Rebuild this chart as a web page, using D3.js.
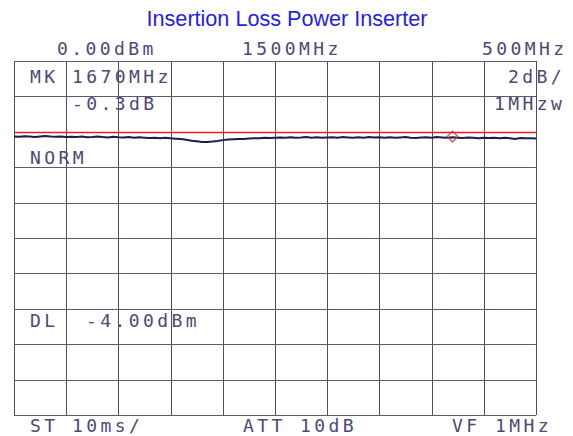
<!DOCTYPE html>
<html>
<head>
<meta charset="utf-8">
<script src="https://cdn.jsdelivr.net/npm/d3@7"></script>
<style>
  html, body { margin: 0; padding: 0; background: #ffffff; }
  svg { display: block; }
  .lbl { font-family: "DejaVu Sans Mono", monospace; font-size: 18px; fill: #4a4a74; letter-spacing: 3.4px; }
</style>
</head>
<body>
<svg id="chart" width="573" height="436"></svg>
<script>
// ---------- data ----------
const title = "Insertion Loss Power Inserter";
const startMHz = 1250;           // centre 1500 MHz, span 500 MHz
const stopMHz = 1750;
const refLevelDbm = 0;           // top of screen
const bottomLevelDbm = -20;      // 2 dB/div x 10 div
const freqGridMHz = [1250, 1300, 1350, 1400, 1450, 1500, 1550, 1600, 1650, 1700, 1750];
const levelGridDbm = [0, -2, -4, -6, -8, -10, -12, -14, -16, -18, -20];
const displayLineDbm = -4.0;     // DL -4.00dBm
const markerMHz = 1670;
const markerDbm = -4.27;
// trace level (dBm), 101 points evenly spread across the span
const traceDbm = [
  -4.26,-4.28,-4.25,-4.27,-4.29,-4.26,-4.24,-4.27,-4.28,-4.26,-4.29,
  -4.28,-4.30,-4.27,-4.31,-4.29,-4.26,-4.30,-4.32,-4.28,-4.31,
  -4.32,-4.30,-4.34,-4.31,-4.33,-4.35,-4.33,-4.36,-4.34,-4.37,
  -4.39,-4.41,-4.45,-4.50,-4.54,-4.58,-4.57,-4.55,-4.52,-4.47,
  -4.44,-4.42,-4.40,-4.41,-4.38,-4.37,-4.36,-4.34,-4.35,-4.33,
  -4.32,-4.34,-4.31,-4.33,-4.32,-4.30,-4.33,-4.31,-4.34,-4.32,
  -4.31,-4.33,-4.30,-4.32,-4.34,-4.31,-4.33,-4.30,-4.32,-4.31,
  -4.33,-4.31,-4.34,-4.32,-4.30,-4.33,-4.35,-4.32,-4.31,-4.33,
  -4.30,-4.32,-4.34,-4.31,-4.33,-4.35,-4.32,-4.34,-4.36,-4.33,
  -4.35,-4.34,-4.37,-4.33,-4.36,-4.40,-4.35,-4.37,-4.36,-4.38
];
// screen annotations: [text, x, baseline]
const screenLabels = [
  ["0.00dBm", 57, 55], ["1500MHz", 242, 55], ["500MHz", 482, 55],
  ["MK", 30, 83], ["1670MHz", 72, 83], ["2dB/", 508, 83],
  ["-0.3dB", 72, 110], ["1MHzw", 494, 110],
  ["NORM", 30, 164],
  ["DL", 30, 327], ["-4.00dBm", 86, 327],
  ["ST", 30, 432], ["10ms/", 72, 432], ["ATT", 243, 432], ["10dB", 300, 432],
  ["VF", 452, 432], ["1MHz", 495, 432]
];

// ---------- drawing ----------
const svg = d3.select("#chart");
const L = 14, R = 536, T = 61, B = 415;
const x = d3.scaleLinear().domain([startMHz, stopMHz]).range([L, R]);
const y = d3.scaleLinear().domain([refLevelDbm, bottomLevelDbm]).range([T, B]);
const crisp = v => Math.round(v) + 0.5;

svg.append("text")
  .attr("x", 287).attr("y", 26)
  .attr("text-anchor", "middle")
  .attr("font-family", "Liberation Sans, Arial, sans-serif")
  .attr("font-size", 21.6)
  .attr("fill", "#1e1ef0")
  .text(title);

// grid via axes
const gx = svg.append("g").attr("transform", `translate(0,${B})`)
  .call(d3.axisBottom(x).tickValues(freqGridMHz).tickSize(-(B - T)).tickFormat(""));
gx.select(".domain").remove();
gx.selectAll(".tick").attr("transform", d => `translate(${crisp(x(d))},0)`);
gx.selectAll("line").attr("stroke", "#4c4c6c").attr("stroke-width", 1);

const gy = svg.append("g").attr("transform", `translate(${L},0)`)
  .call(d3.axisLeft(y).tickValues(levelGridDbm).tickSize(-(R - L)).tickFormat(""));
gy.select(".domain").remove();
gy.selectAll(".tick").attr("transform", d => `translate(0,${crisp(y(d))})`);
gy.selectAll("line").attr("stroke", "#5a5a76").attr("stroke-width", 1);

// display line
svg.append("line")
  .attr("x1", x(startMHz)).attr("x2", x(stopMHz))
  .attr("y1", crisp(y(displayLineDbm))).attr("y2", crisp(y(displayLineDbm)))
  .attr("stroke", "#ee1c1c").attr("stroke-width", 1.5);

// trace
const idx = d3.scaleLinear().domain([0, traceDbm.length - 1]).range([startMHz, stopMHz]);
svg.append("path")
  .datum(traceDbm)
  .attr("fill", "none")
  .attr("stroke", "#1c1c4e")
  .attr("stroke-width", 2)
  .attr("d", d3.line().x((d, i) => x(idx(i))).y(d => y(d)));

// marker
svg.append("path")
  .attr("d", d3.symbol(d3.symbolSquare, 58)())
  .attr("transform", `translate(${x(markerMHz)},${y(markerDbm)}) rotate(45)`)
  .attr("fill", "none").attr("stroke", "#e03030").attr("stroke-width", 1);

// labels
svg.selectAll("text.lbl").data(screenLabels).join("text")
  .attr("class", "lbl")
  .attr("x", d => d[1]).attr("y", d => d[2])
  .text(d => d[0]);
</script>
</body>
</html>
